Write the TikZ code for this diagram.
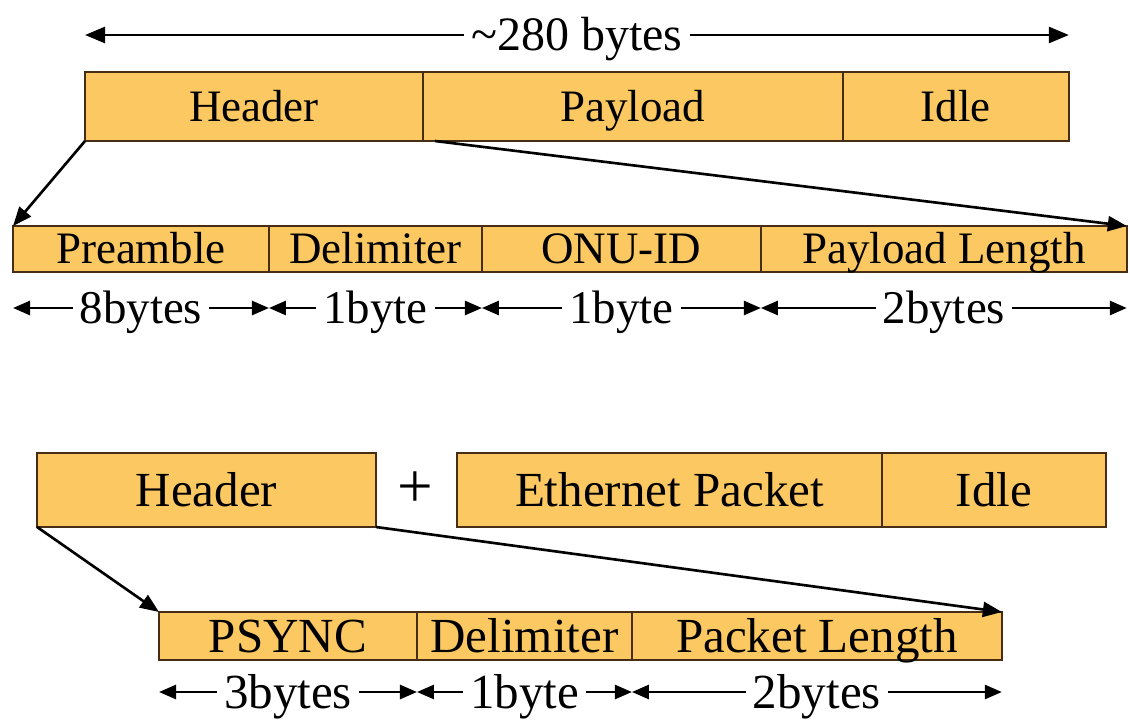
\documentclass[tikz,border=0pt]{standalone}
\usepackage{fontspec}
\setmainfont{Liberation Serif}
\usepackage{tikz}
\usetikzlibrary{positioning, arrows.meta}
\definecolor{fieldorange}{RGB}{252,200,98}
\definecolor{edgebrown}{RGB}{70,45,20}
\tikzstyle{fld}=[%
      rectangle, draw=edgebrown, line width=1.1pt, fill=fieldorange,
      inner sep=0pt, outer sep=0pt, text height=17pt, text depth=0pt,
      font=\fontsize{25.6}{30}\selectfont
]
\tikzstyle{rowa}=[fld, minimum height=1.38cm]
\tikzstyle{rowb}=[fld, minimum height=0.92cm]
\tikzstyle{rowc}=[fld, minimum height=1.48cm, text height=18.5pt, font=\fontsize{27.9}{32}\selectfont]
\tikzstyle{rowd}=[fld, minimum height=0.96cm, text height=18.5pt, font=\fontsize{27.9}{32}\selectfont]
\tikzstyle{dim}=[%
      {Triangle[length=0.34cm,width=0.28cm]}-{Triangle[length=0.34cm,width=0.28cm]},
      line width=1.5pt
]
\tikzstyle{dimlbl}=[%
      fill=white, inner sep=4pt, text height=17.7pt, text depth=0pt,
      font=\fontsize{26.7}{30}\selectfont
]
\tikzstyle{dimlblb}=[dimlbl, text height=18.5pt, font=\fontsize{27.9}{32}\selectfont]

\begin{document}
\begin{tikzpicture}[x=0.02cm, y=-0.02cm,
    -{Triangle[length=0.38cm,width=0.3cm]},
    line width=1.5pt
  ]
    \useasboundingbox (0,0) rectangle (1130,724);
    \coordinate (spanrow) at (0,35);
    \coordinate (dimrowa) at (0,308);
    \coordinate (dimrowb) at (0,692);

    % upstream frame
    \node[rowa, minimum width=6.76cm] (hdr) at (254,106.5) {Header};
    \node[rowa, minimum width=8.40cm, right=0pt of hdr] (pay) {Payload};
    \node[rowa, minimum width=4.52cm, right=0pt of pay] (idle) {Idle};

    \node[rowb, minimum width=5.12cm] (pre) at (141,249) {Preamble};
    \node[rowb, minimum width=4.26cm, right=0pt of pre] (delim) {Delimiter};
    \node[rowb, minimum width=5.58cm, right=0pt of delim] (onu) {ONU-ID};
    \node[rowb, minimum width=7.32cm, right=0pt of onu] (plen) {Payload Length};

    \draw[dim, {Triangle[length=0.4cm,width=0.32cm]}-{Triangle[length=0.4cm,width=0.32cm]}]
        (hdr.west |- spanrow) -- node[dimlbl, text height=18pt, font=\fontsize{27.3}{30}\selectfont] {\char"7E 280 bytes} (idle.east |- spanrow);

    \draw (hdr.south west) -- (pre.north west);
    \draw ([xshift=0.24cm]hdr.south east) -- (plen.north east);

    \draw[dim] (pre.west |- dimrowa) -- node[dimlbl] {8bytes} (pre.east |- dimrowa);
    \draw[dim] (delim.west |- dimrowa) -- node[dimlbl] {1byte} (delim.east |- dimrowa);
    \draw[dim] (onu.west |- dimrowa) -- node[dimlbl] {1byte} (onu.east |- dimrowa);
    \draw[dim] (plen.west |- dimrowa) -- node[dimlbl] {2bytes} (plen.east |- dimrowa);

    % downstream frame
    \node[rowc, minimum width=6.78cm] (hdrb) at (206.5,490) {Header};
    \node[font=\fontsize{36}{40}\selectfont] (plus) at (415,490) {+};
    \node[rowc, minimum width=8.50cm] (eth) at (669.5,490) {Ethernet Packet};
    \node[rowc, minimum width=4.48cm, right=0pt of eth] (idleb) {Idle};

    \node[rowd, minimum width=5.16cm] (psync) at (288,636) {PSYNC};
    \node[rowd, minimum width=4.30cm, right=0pt of psync] (delimb) {Delimiter};
    \node[rowd, minimum width=7.40cm, right=0pt of delimb] (pktlen) {Packet Length};

    \draw (hdrb.south west) -- (psync.north west);
    \draw (hdrb.south east) -- (pktlen.north east);

    \draw[dim] (psync.west |- dimrowb) -- node[dimlblb] {3bytes} (psync.east |- dimrowb);
    \draw[dim] (delimb.west |- dimrowb) -- node[dimlblb] {1byte} (delimb.east |- dimrowb);
    \draw[dim] (pktlen.west |- dimrowb) -- node[dimlblb] {2bytes} (pktlen.east |- dimrowb);

\end{tikzpicture}
\end{document}
